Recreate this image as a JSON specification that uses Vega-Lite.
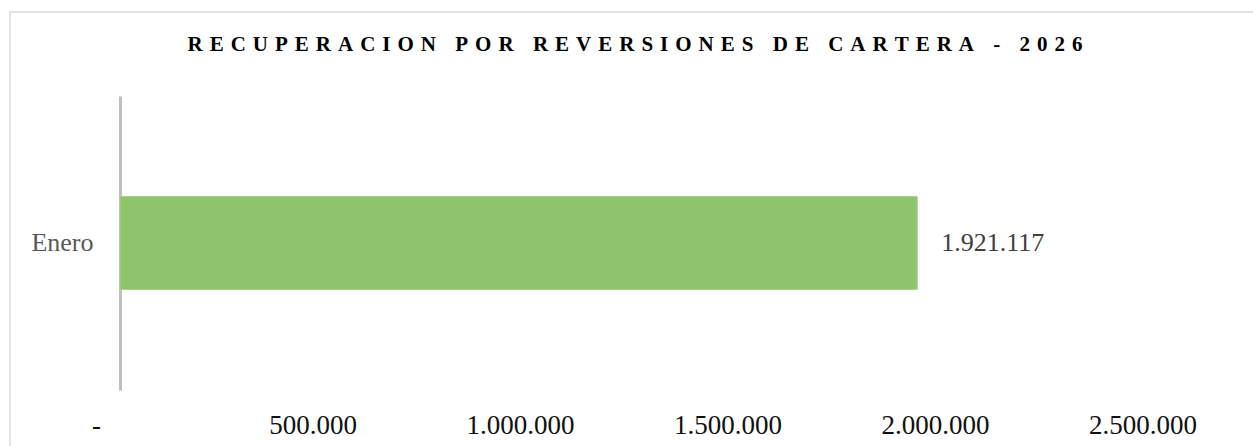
{
  "$schema": "https://vega.github.io/schema/vega-lite/v6.json",
  "width": 1250,
  "height": 440,
  "autosize": {"type": "none"},
  "padding": {"left": 10, "top": 12, "right": 0, "bottom": 0},
  "background": "white",
  "config": {
    "locale": {"number": {"decimal": ",", "thousands": ".", "grouping": [3], "currency": ["$", ""]}},
    "view": {"stroke": "#d9d9d9", "strokeWidth": 1.5},
    "font": "Liberation Serif"
  },
  "title": {
    "text": "R\u2004E\u2004C\u2004U\u2004P\u2004E\u2004R\u2004A\u2004C\u2004I\u2004O\u2004N\u2004 \u2004P\u2004O\u2004R\u2004 \u2004R\u2004E\u2004V\u2004E\u2004R\u2004S\u2004I\u2004O\u2004N\u2004E\u2004S\u2004 \u2004D\u2004E\u2004 \u2004C\u2004A\u2004R\u2004T\u2004E\u2004R\u2004A\u2004 \u2004-\u2004 \u20042\u20040\u20042\u20046",
    "font": "Liberation Serif",
    "fontSize": 21,
    "fontWeight": "bold",
    "color": "#000000",
    "anchor": "middle",
    "baseline": "alphabetic",
    "offset": -40,
    "dy": 20
  },
  "data": {"values": [{"mes": "Enero", "valor": 1921117}]},
  "encoding": {
    "y": {
      "field": "mes",
      "type": "nominal",
      "scale": {"range": [84, 378]},
      "axis": {
        "title": null,
        "offset": -110,
        "domain": true,
        "domainColor": "#bfbfbf",
        "domainWidth": 3,
        "ticks": false,
        "grid": false,
        "labelPadding": 27,
        "labelFontSize": 26,
        "labelFont": "Liberation Serif",
        "labelColor": "#595959"
      }
    },
    "x": {
      "field": "valor",
      "type": "quantitative",
      "scale": {"domain": [0, 2500000], "range": [110, 1147.5], "nice": false, "zero": true},
      "axis": {
        "title": null,
        "orient": "bottom",
        "offset": -62,
        "values": [0, 500000, 1000000, 1500000, 2000000, 2500000],
        "format": ",d",
        "labelExpr": "datum.value === 0 ? '-' : datum.label",
        "labelOffset": {"condition": {"test": "datum.value === 0", "value": -24}, "value": -15},
        "domain": false,
        "ticks": false,
        "grid": false,
        "labelPadding": 22.5,
        "labelFontSize": 27,
        "labelFont": "Liberation Serif",
        "labelColor": "#111111",
        "labelFlush": false,
        "labelOverlap": false
      }
    }
  },
  "layer": [
    {"mark": {"type": "bar", "size": 93, "color": "#8fc46c", "stroke": "#a9d18e", "strokeWidth": 1}},
    {
      "mark": {"type": "text", "align": "left", "dx": 24, "baseline": "middle", "fontSize": 26, "color": "#404040", "font": "Liberation Serif"},
      "encoding": {"text": {"field": "valor", "type": "quantitative", "format": ",d"}}
    }
  ]
}
